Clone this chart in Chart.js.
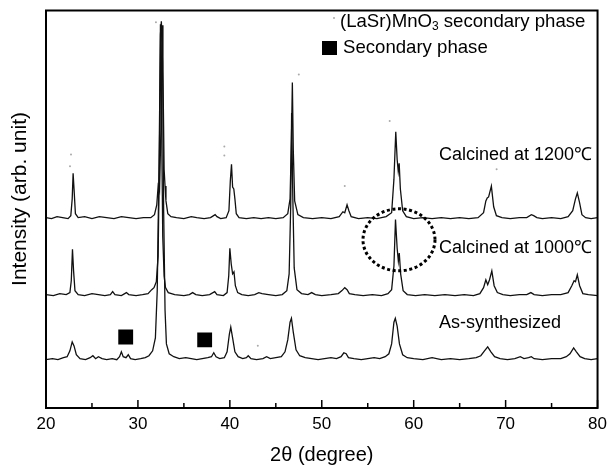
<!DOCTYPE html>
<html>
<head>
<meta charset="utf-8" />
<title>XRD patterns</title>
<style>
    html, body { margin: 0; padding: 0; background: #fff; }
    #chartBox { width: 613px; height: 470px; }
</style>
</head>
<body>
<div id="chartBox"><canvas id="xrdChart" width="613" height="470"></canvas></div>

<script src="https://cdn.jsdelivr.net/npm/chart.js"></script>
<script>
    // tick positions on the 2theta axis
    const xTicks = [20, 25, 30, 35, 40, 45, 50, 55, 60, 65, 70, 75, 80];
    const xLabels = ['20', '30', '40', '50', '60', '70', '80'];

    // vertical offsets of the stacked patterns (arb. unit)
    const offsets = { calc1200: 192, calc1000: 114, asSynth: 49 };

    // [2theta, intensity above own baseline]
    const calc1200 = [[20,1],[20.6,0],[21.2,2],[21.8,1],[22.4,0],[22.7,3],[22.85,20],[22.95,46],[23.05,30],[23.2,5],[23.5,1],[24.2,2],[25,0],[25.8,2],[26.6,1],[27.4,0],[28.2,2],[29,1],[29.8,0],[30.6,1],[31.4,1],[31.8,4],[32.05,14],[32.2,33],[32.35,28],[32.5,90],[32.62,196],[32.72,150],[32.85,50],[32.95,33],[33.05,18],[33.25,5],[33.6,2],[34.2,1],[35,0],[35.8,2],[36.4,1],[37.2,0],[37.9,1],[38.4,4],[38.6,2],[39,0],[39.6,1],[39.9,8],[40.05,38],[40.18,55],[40.3,32],[40.43,30],[40.55,20],[40.7,5],[41,1],[41.8,0],[42.6,1],[43.4,0],[44.2,1],[45,0],[45.8,1],[46.3,5],[46.55,20],[46.7,80],[46.8,138],[46.9,70],[47.05,18],[47.4,4],[48,1],[49,0],[50,1],[51,0],[51.9,2],[52.3,7],[52.5,6],[52.75,14],[52.95,8],[53.2,2],[54,0],[55,1],[56,0],[57,2],[57.6,6],[57.85,40],[58.05,88],[58.2,60],[58.32,48],[58.42,56],[58.55,30],[58.8,8],[59.2,2],[60,0],[61,1],[62,0],[63,1],[64,0],[65,1],[66,0],[67,1],[67.6,6],[67.85,18],[68.0,21],[68.15,22],[68.45,33],[68.7,12],[69.0,3],[69.6,1],[70.5,0],[71.5,1],[72.3,1],[72.8,4],[73.05,3],[73.4,1],[74,0],[75,1],[76,0],[76.8,2],[77.3,8],[77.6,20],[77.8,26],[78.05,16],[78.3,4],[78.7,1],[79.3,0],[80,1]];

    const calc1000 = [[20,1],[20.8,0],[21.5,2],[22.2,1],[22.6,3],[22.75,15],[22.88,47],[23.0,25],[23.15,5],[23.5,1],[24.2,0],[25,2],[25.7,1],[26.4,0],[27.0,1],[27.25,4],[27.5,1],[28.2,0],[28.75,3],[29.0,1],[29.8,0],[30.5,1],[31.1,2],[31.5,6],[31.75,8],[32.0,14],[32.2,40],[32.35,150],[32.45,275],[32.55,200],[32.7,60],[32.85,20],[33.0,8],[33.3,3],[34,1],[35,0],[35.6,1],[35.95,3],[36.3,1],[37,0],[37.8,1],[38.35,4],[38.6,1],[39.3,0],[39.7,3],[39.88,20],[40.0,48],[40.15,32],[40.3,22],[40.45,24],[40.6,10],[40.85,3],[41.3,1],[42,0],[42.7,1],[43.15,3],[43.5,2],[44.2,1],[45,0],[45.7,1],[46.2,5],[46.45,22],[46.62,90],[46.72,185],[46.85,100],[47.0,28],[47.3,6],[47.8,2],[48.5,1],[48.9,3],[49.3,1],[50,0],[51,1],[51.8,2],[52.2,5],[52.5,8],[52.75,6],[53.0,2],[53.6,1],[54.5,0],[55.5,1],[56.5,0],[57.2,2],[57.6,6],[57.85,30],[58.02,77],[58.2,48],[58.33,35],[58.43,43],[58.58,22],[58.85,5],[59.3,1],[60.2,0],[61.2,1],[62.3,0],[63.4,1],[64.5,0],[65.5,1],[66.5,0],[67.2,2],[67.6,8],[67.85,16],[68.05,11],[68.25,16],[68.5,25],[68.75,10],[69.1,3],[69.7,1],[70.5,0],[71.5,1],[72.3,1],[72.75,3],[73.1,1],[74,0],[75,1],[76,1],[76.8,3],[77.2,10],[77.45,15],[77.6,14],[77.8,21],[78.05,10],[78.4,2],[79,1],[80,0]];

    const asSynth = [[20,0],[20.7,1],[21.3,0],[21.9,2],[22.3,3],[22.6,9],[22.85,18],[23.05,14],[23.3,5],[23.7,1],[24.3,0],[24.8,2],[25.1,4],[25.4,1],[25.7,3],[26.1,1],[26.6,0],[27.2,1],[27.7,0],[28.0,3],[28.2,8],[28.4,3],[28.7,2],[28.95,5],[29.2,1],[29.7,0],[30.3,1],[30.8,2],[31.2,4],[31.6,9],[31.9,22],[32.1,70],[32.3,200],[32.45,330],[32.55,343],[32.68,300],[32.8,150],[32.95,50],[33.1,16],[33.4,6],[33.9,3],[34.5,1],[35.2,2],[35.8,1],[36.4,0],[37,1],[37.6,2],[38.0,3],[38.25,7],[38.5,3],[38.9,1],[39.4,2],[39.7,8],[39.95,26],[40.1,33],[40.3,22],[40.55,8],[40.9,3],[41.4,1],[41.8,2],[42.0,4],[42.3,1],[42.9,0],[43.6,1],[44.0,3],[44.4,1],[45,2],[45.6,3],[46.0,8],[46.3,20],[46.55,38],[46.7,42],[46.9,28],[47.2,10],[47.6,4],[48.2,2],[48.9,1],[49.6,0],[50.3,1],[51,2],[51.6,1],[52.1,3],[52.4,7],[52.65,6],[52.9,2],[53.5,1],[54.3,0],[55,1],[55.7,2],[56.3,1],[56.9,3],[57.3,6],[57.6,16],[57.85,38],[58.0,42],[58.2,34],[58.45,16],[58.8,5],[59.3,2],[60,1],[61,0],[62,2],[63,0],[64,1],[65,0],[66,1],[66.8,2],[67.3,4],[67.7,9],[68.05,13],[68.4,8],[68.8,3],[69.4,1],[70.2,0],[71,1],[71.6,3],[72.0,1],[72.5,2],[72.8,3],[73.1,1],[74,0],[75,1],[76,1],[76.6,3],[77.0,6],[77.4,12],[77.7,8],[78.1,3],[78.6,1],[79.3,0],[80,1]];

    // black squares = secondary phase, faint dots = (LaSr)MnO3 marks
    const secondaryMarks = [[28.67, 72], [37.26, 69]];
    const fadedMarks = [[22.72,257],[22.61,245],[39.40,265],[39.40,256],[43.04,63],[57.39,291],[52.5,225],[69.02,242],[47.5,338],[31.96,391]];

    const traceLabels = ['Calcined at 1200\u2103', 'Calcined at 1000\u2103', 'As-synthesized'];

    const FONT = '"Liberation Sans", Arial, sans-serif';

    function toPoints(arr, off) {
        return arr.map(p => ({ x: p[0], y: p[1] + (off || 0) }));
    }

    function lineSet(arr, off) {
        return {
            type: 'line',
            data: toPoints(arr, off),
            borderColor: '#111',
            borderWidth: 1.3,
            pointRadius: 0,
            tension: 0,
            fill: false
        };
    }

    const decorations = {
        id: 'decorations',
        afterDatasetsDraw(chart) {
            const ctx = chart.ctx;
            const a = chart.chartArea;
            const xs = chart.scales.x;
            const ys = chart.scales.y;
            ctx.save();

            // frame
            ctx.strokeStyle = '#000';
            ctx.lineWidth = 2;
            ctx.strokeRect(a.left, a.top, a.right - a.left, a.bottom - a.top);

            // inward ticks
            ctx.lineWidth = 1.5;
            xTicks.forEach(v => {
                const px = xs.getPixelForValue(v);
                const len = v % 10 === 0 ? 8 : 5;
                ctx.beginPath();
                ctx.moveTo(px, a.bottom);
                ctx.lineTo(px, a.bottom - len);
                ctx.stroke();
            });

            // dotted circle around the 58 deg peaks
            const cx = xs.getPixelForValue(58.4);
            const cy = ys.getPixelForValue(170.5);
            ctx.setLineDash([3, 2.6]);
            ctx.lineWidth = 3;
            ctx.beginPath();
            ctx.ellipse(cx, cy, 36, 31, 0, 0, Math.PI * 2);
            ctx.stroke();
            ctx.setLineDash([]);

            // trace labels
            ctx.fillStyle = '#000';
            ctx.font = '18px ' + FONT;
            ctx.textBaseline = 'middle';
            ctx.textAlign = 'left';
            ctx.fillText(traceLabels[0], 439, 155);
            ctx.fillText(traceLabels[1], 439, 248);
            ctx.fillText(traceLabels[2], 439, 323);

            // legend
            ctx.fillStyle = '#aaa';
            ctx.beginPath();
            ctx.arc(334, 18, 1, 0, Math.PI * 2);
            ctx.fill();
            ctx.fillStyle = '#000';
            ctx.font = '18.6px ' + FONT;
            let tx = 340;
            ctx.fillText('(LaSr)MnO', tx, 22);
            tx += ctx.measureText('(LaSr)MnO').width;
            ctx.font = '12px ' + FONT;
            ctx.fillText('3', tx, 27);
            tx += ctx.measureText('3').width;
            ctx.font = '18.6px ' + FONT;
            ctx.fillText(' secondary phase', tx, 22);
            ctx.fillRect(322, 41, 15, 14);
            ctx.fillText('Secondary phase', 343, 48);

            // y axis title
            ctx.save();
            ctx.translate(20, 199);
            ctx.rotate(-Math.PI / 2);
            ctx.textAlign = 'center';
            ctx.font = '21px ' + FONT;
            ctx.fillText('Intensity (arb. unit)', 0, 0);
            ctx.restore();

            ctx.restore();
        }
    };

    const ctx = document.getElementById('xrdChart').getContext('2d');
    const chart = new Chart(ctx, {
        type: 'line',
        data: {
            datasets: [
                lineSet(calc1200, offsets.calc1200),
                lineSet(calc1000, offsets.calc1000),
                lineSet(asSynth, offsets.asSynth),
                {
                    type: 'scatter',
                    data: toPoints(secondaryMarks),
                    pointStyle: 'rect',
                    pointRadius: 10.5,
                    backgroundColor: '#000',
                    borderColor: '#000',
                    borderWidth: 0
                },
                {
                    type: 'scatter',
                    data: toPoints(fadedMarks),
                    pointRadius: 1,
                    backgroundColor: '#aaa',
                    borderWidth: 0
                }
            ]
        },
        options: {
            responsive: false,
            animation: false,
            layout: { padding: { left: 46, right: 15, top: 5, bottom: 0 } },
            plugins: {
                legend: { display: false },
                tooltip: { enabled: false }
            },
            scales: {
                x: {
                    type: 'linear',
                    min: 20,
                    max: 80,
                    grid: { display: false, drawTicks: false },
                    border: { display: false },
                    afterFit: s => { s.height = 62; },
                    afterBuildTicks: s => { s.ticks = xTicks.map(v => ({ value: v })); },
                    ticks: {
                        autoSkip: false,
                        maxRotation: 0,
                        padding: 6,
                        color: '#000',
                        font: { family: FONT, size: 17 },
                        callback: v => (xLabels.indexOf(String(v)) >= 0 ? String(v) : '')
                    },
                    title: {
                        display: true,
                        text: '2\u03b8 (degree)',
                        color: '#000',
                        font: { family: FONT, size: 20 },
                        padding: { top: 0, bottom: 3 }
                    }
                },
                y: {
                    display: false,
                    min: 0,
                    max: 403
                }
            }
        },
        plugins: [decorations]
    });
</script>
</body>
</html>
